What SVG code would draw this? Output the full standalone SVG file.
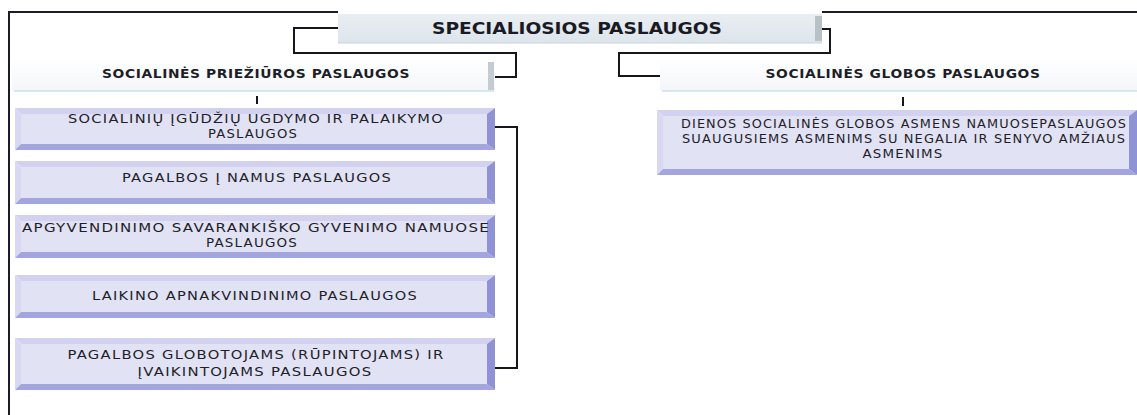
<svg xmlns="http://www.w3.org/2000/svg" width="1137" height="415" viewBox="0 0 1137 415">
<defs>
<linearGradient id="gTitle" x1="0" y1="0" x2="0" y2="1">
<stop offset="0" stop-color="#e9eef2"/><stop offset="1" stop-color="#dde5ec"/>
</linearGradient>
<linearGradient id="gHead" x1="0" y1="0" x2="0" y2="1">
<stop offset="0" stop-color="#ffffff"/><stop offset="1" stop-color="#f3f6f9"/>
</linearGradient>
<style>
.ln{fill:none;stroke:#16161e;stroke-width:2}
.frame{fill:none;stroke:#1c1c2c;stroke-width:2}
.face{fill:#e2e2f5}
.top{fill:#d2d2f0}
.lft{fill:#d8d8f3}
.bot{fill:#a3a5de}
.rgt{fill:#8f93d6}
.t{font-family:"DejaVu Sans","Liberation Sans",sans-serif;font-size:11.5px;letter-spacing:1px;fill:#1e1e28;text-anchor:middle}
.h{font-family:"DejaVu Sans","Liberation Sans",sans-serif;font-size:11.5px;font-weight:700;letter-spacing:0.5px;fill:#1e1e28;text-anchor:middle}
.ti{font-family:"DejaVu Sans","Liberation Sans",sans-serif;font-size:15px;font-weight:700;fill:#1a1a24;text-anchor:middle}
</style>
</defs>
<rect width="1137" height="415" fill="#ffffff"/>
<g id="frame">
<path class="frame" d="M9,415 V12 H338 M822,12 H1137"/>
</g>
<g id="connectors">
<path class="ln" d="M338,28 H294 V53 H516 V77 H495"/>
<path class="ln" d="M822,29 H830 V53 H619 V76 H660"/>
<path class="ln" d="M257,96 V104"/>
<path class="ln" d="M903,97 V106"/>
<path class="ln" d="M495,127 H517 V368 H495"/>
</g>
<g id="title">
<rect x="338" y="14" width="484" height="29" fill="url(#gTitle)"/>
<rect x="815" y="16" width="7" height="25" fill="#b9c0c6"/>
<line x1="338" y1="43" x2="822" y2="43" stroke="#c9d3dc" stroke-width="1"/>
<text class="ti" x="577" y="34" textLength="290" lengthAdjust="spacingAndGlyphs">SPECIALIOSIOS PASLAUGOS</text>
</g>
<g id="prieziura">
<rect x="12" y="58" width="483" height="33" fill="url(#gHead)"/>
<rect x="488" y="62" width="6" height="28" fill="#c4cbd1"/>
<line x1="14" y1="91" x2="494" y2="91" stroke="#cfe0ea" stroke-width="1.5"/>
<text class="h" x="256" y="78" textLength="308" lengthAdjust="spacingAndGlyphs">SOCIALINĖS PRIEŽIŪROS PASLAUGOS</text>
</g>
<g id="globa">
<rect x="660" y="58" width="477" height="33" fill="url(#gHead)"/>
<line x1="662" y1="91" x2="1137" y2="91" stroke="#cfe0ea" stroke-width="1.5"/>
<text class="h" x="903" y="78" textLength="275" lengthAdjust="spacingAndGlyphs">SOCIALINĖS GLOBOS PASLAUGOS</text>
</g>
<g id="box1">
<polygon class="top" points="15,108 495,108 487,114 21,114"/>
<polygon class="lft" points="15,108 21,114 21,144 15,150"/>
<polygon class="bot" points="15,150 21,144 487,144 495,150"/>
<polygon class="rgt" points="495,108 495,150 487,144 487,114"/>
<rect class="face" x="21" y="114" width="466" height="30"/>
<text class="t" x="256" y="123" textLength="376" lengthAdjust="spacingAndGlyphs">SOCIALINIŲ ĮGŪDŽIŲ UGDYMO IR PALAIKYMO</text>
<text class="t" x="253" y="138" textLength="90" lengthAdjust="spacingAndGlyphs">PASLAUGOS</text>
</g>
<g id="box2">
<polygon class="top" points="15,161 495,161 487,167 21,167"/>
<polygon class="lft" points="15,161 21,167 21,198 15,204"/>
<polygon class="bot" points="15,204 21,198 487,198 495,204"/>
<polygon class="rgt" points="495,161 495,204 487,198 487,167"/>
<rect class="face" x="21" y="167" width="466" height="31"/>
<text class="t" x="257" y="182" textLength="270" lengthAdjust="spacingAndGlyphs">PAGALBOS Į NAMUS PASLAUGOS</text>
</g>
<g id="box3">
<polygon class="top" points="15,215 495,215 487,221 21,221"/>
<polygon class="lft" points="15,215 21,221 21,252 15,258"/>
<polygon class="bot" points="15,258 21,252 487,252 495,258"/>
<polygon class="rgt" points="495,215 495,258 487,252 487,221"/>
<rect class="face" x="21" y="221" width="466" height="31"/>
<text class="t" x="256" y="232" textLength="468" lengthAdjust="spacingAndGlyphs">APGYVENDINIMO SAVARANKIŠKO GYVENIMO NAMUOSE</text>
<text class="t" x="252" y="247" textLength="92" lengthAdjust="spacingAndGlyphs">PASLAUGOS</text>
</g>
<g id="box4">
<polygon class="top" points="15,275 495,275 487,281 21,281"/>
<polygon class="lft" points="15,275 21,281 21,312 15,318"/>
<polygon class="bot" points="15,318 21,312 487,312 495,318"/>
<polygon class="rgt" points="495,275 495,318 487,312 487,281"/>
<rect class="face" x="21" y="281" width="466" height="31"/>
<text class="t" x="255" y="300" textLength="326" lengthAdjust="spacingAndGlyphs">LAIKINO APNAKVINDINIMO PASLAUGOS</text>
</g>
<g id="box5">
<polygon class="top" points="15,338 495,338 487,344 21,344"/>
<polygon class="lft" points="15,338 21,344 21,384 15,390"/>
<polygon class="bot" points="15,390 21,384 487,384 495,390"/>
<polygon class="rgt" points="495,338 495,390 487,384 487,344"/>
<rect class="face" x="21" y="344" width="466" height="40"/>
<text class="t" x="256" y="359" textLength="377" lengthAdjust="spacingAndGlyphs">PAGALBOS GLOBOTOJAMS (RŪPINTOJAMS) IR</text>
<text class="t" x="255" y="376" textLength="235" lengthAdjust="spacingAndGlyphs">ĮVAIKINTOJAMS PASLAUGOS</text>
</g>
<g id="box6">
<polygon class="top" points="657,110 1137,110 1129,116 663,116"/>
<polygon class="lft" points="657,110 663,116 663,169 657,175"/>
<polygon class="bot" points="657,175 663,169 1129,169 1137,175"/>
<polygon class="rgt" points="1137,110 1137,175 1129,169 1129,116"/>
<rect class="face" x="663" y="116" width="466" height="53"/>
<text class="t" x="904" y="128" textLength="446" lengthAdjust="spacingAndGlyphs">DIENOS SOCIALINĖS GLOBOS ASMENS NAMUOSEPASLAUGOS</text>
<text class="t" x="904" y="143" textLength="444" lengthAdjust="spacingAndGlyphs">SUAUGUSIEMS ASMENIMS SU NEGALIA IR SENYVO AMŽIAUS</text>
<text class="t" x="903" y="158" textLength="81" lengthAdjust="spacingAndGlyphs">ASMENIMS</text>
</g>
</svg>
